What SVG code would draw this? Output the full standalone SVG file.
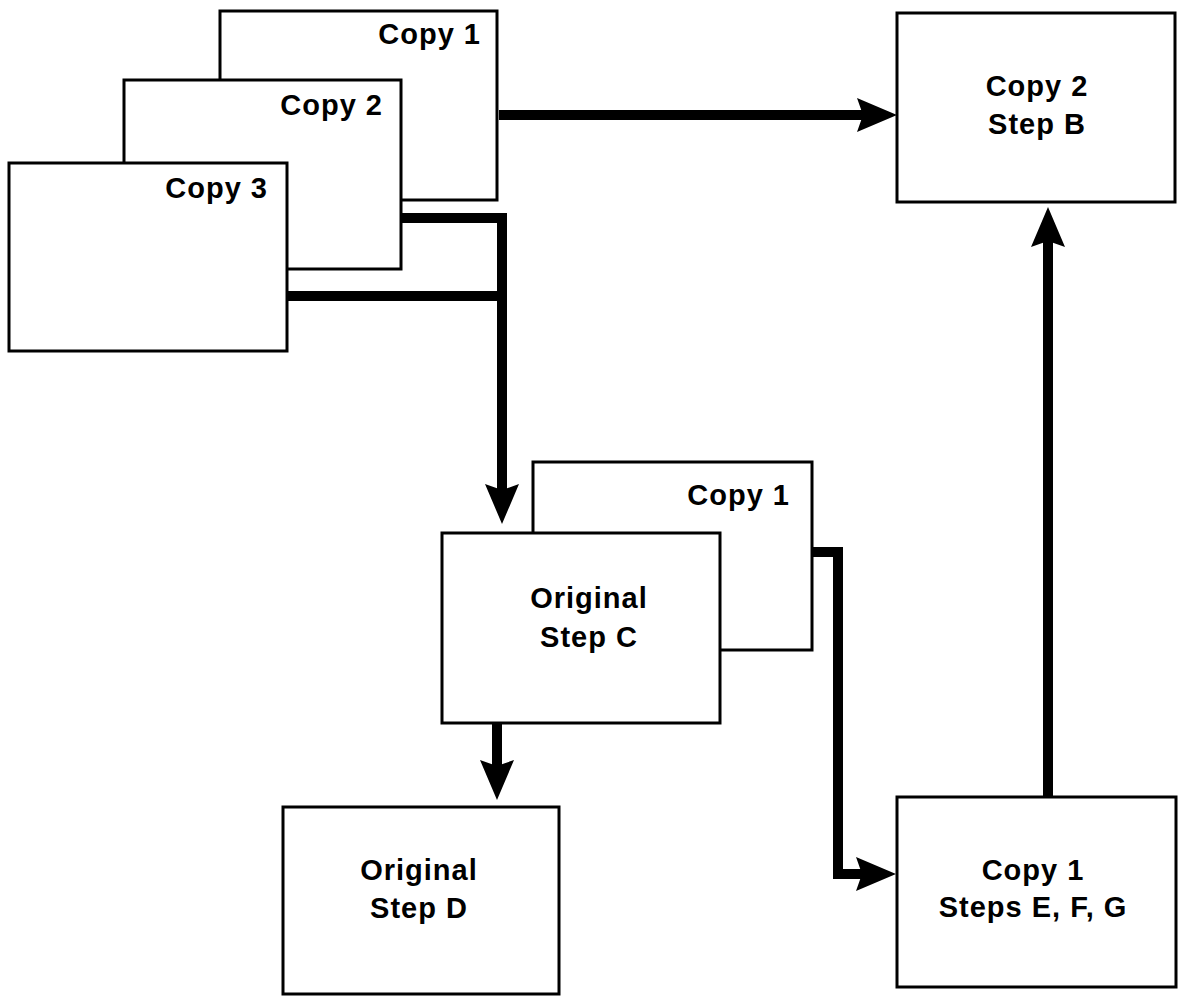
<svg xmlns="http://www.w3.org/2000/svg" width="1178" height="996" viewBox="0 0 1178 996">
<style>
.box{fill:#fff;stroke:#000;stroke-width:3}
.lbl{font-family:"Liberation Sans",Arial,Helvetica,sans-serif;font-weight:bold;font-size:29px;letter-spacing:1px;fill:#000}
.c{text-anchor:middle}
.r{text-anchor:end}
.conn{fill:none;stroke:#000;stroke-width:10;stroke-linejoin:miter}
</style>
<defs>
<marker id="ah" markerUnits="userSpaceOnUse" markerWidth="40" markerHeight="34" refX="10" refY="17" orient="auto" viewBox="0 0 40 34">
<path d="M0,0 L40,17 L0,34 L6,17 Z" fill="#000"/>
</marker>
</defs>
<rect width="1178" height="996" fill="#fff"/>
<g id="stack-copy1">
<rect class="box" x="220" y="11" width="277" height="189"/>
<text class="lbl r" x="481" y="44">Copy 1</text>
</g>
<g id="stack-copy2">
<rect class="box" x="124" y="80" width="277" height="189"/>
<text class="lbl r" x="383" y="115">Copy 2</text>
</g>
<g id="stack-copy3">
<rect class="box" x="9" y="163" width="278" height="188"/>
<text class="lbl r" x="268" y="198">Copy 3</text>
</g>
<g id="copy2-stepB">
<rect class="box" x="897" y="13" width="278" height="189"/>
<text class="lbl c" x="1037" y="96">Copy 2</text>
<text class="lbl c" x="1037" y="134">Step B</text>
</g>
<g id="c-copy1">
<rect class="box" x="533" y="462" width="279" height="188"/>
<text class="lbl r" x="790" y="505">Copy 1</text>
</g>
<g id="original-stepC">
<rect class="box" x="442" y="533" width="278" height="190"/>
<text class="lbl c" x="589" y="608">Original</text>
<text class="lbl c" x="589" y="647">Step C</text>
</g>
<g id="original-stepD">
<rect class="box" x="283" y="807" width="276" height="187"/>
<text class="lbl c" x="419" y="880">Original</text>
<text class="lbl c" x="419" y="918">Step D</text>
</g>
<g id="copy1-stepsEFG">
<rect class="box" x="897" y="797" width="279" height="190"/>
<text class="lbl c" x="1033" y="880">Copy 1</text>
<text class="lbl c" x="1033" y="917">Steps E, F, G</text>
</g>
<g id="connectors">
<path class="conn" d="M499,115 H867" marker-end="url(#ah)"/>
<path class="conn" d="M402,218 H502 V494" marker-end="url(#ah)"/>
<path class="conn" d="M288,296 H502"/>
<path class="conn" d="M813,552 H838 V874 H866" marker-end="url(#ah)"/>
<path class="conn" d="M497,724 V770" marker-end="url(#ah)"/>
<path class="conn" d="M1048,796 V237" marker-end="url(#ah)"/>
</g>
</svg>
